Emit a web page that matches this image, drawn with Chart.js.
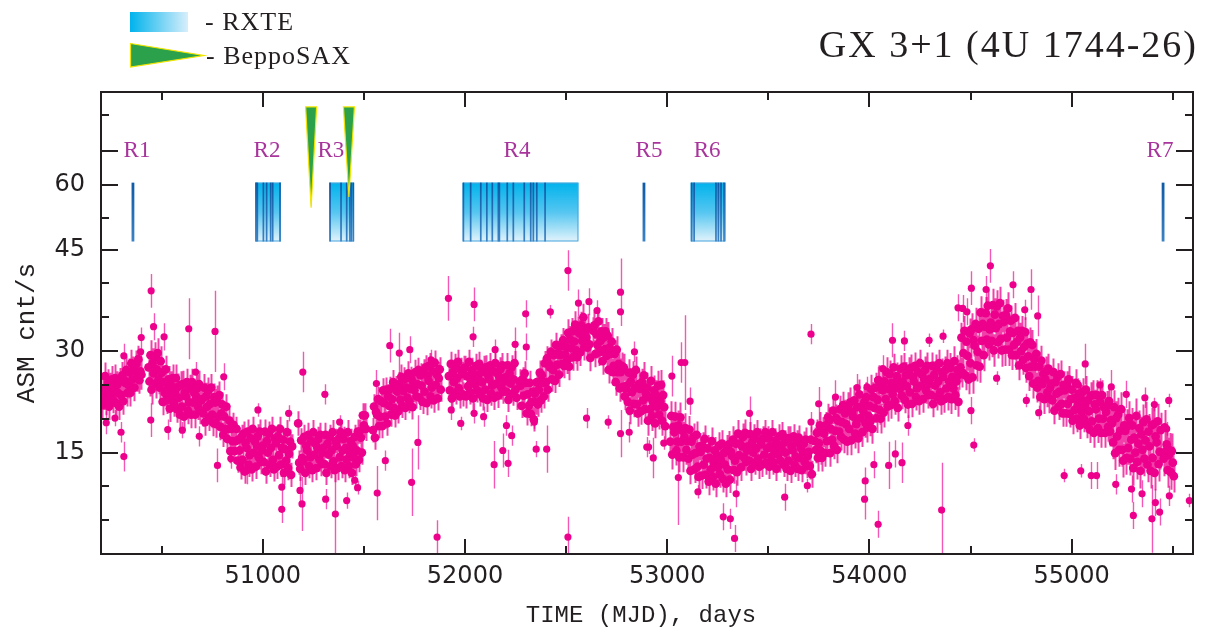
<!DOCTYPE html>
<html>
<head>
<meta charset="utf-8">
<title>GX 3+1 (4U 1744-26)</title>
<script src="https://cdn.jsdelivr.net/npm/chart.js@4.4.1/dist/chart.umd.min.js"></script>
<style>
    html, body { margin: 0; padding: 0; background: #fff; }
    #wrap { width: 1214px; height: 635px; }
</style>
</head>
<body>
<div id="wrap"><canvas id="lc" width="1214" height="635"></canvas></div>
<script>
// RXTE/ASM count rate, 5-day bins; each array starts at the MJD in its name (null = no data)
const ASM_BIN = 5;

const asm50200 = [
    null, 22.0, 24.5, 23.3, 26.3, 22.5, 24.0, 25.3, 21.8, 24.8, 23.5, 25.8, 22.8, 24.3, 26.0, 22.3, 25.0, 23.8, 21.8, 25.5,
    23.5, 26.4, 22.6, 25.7, 25.3, 27.2, 23.8, 25.0, 26.9, 23.8, 28.2, 25.8, 27.2, 24.6, 27.0, 28.1, 26.0, 28.8, 25.7, 27.0,
    26.5, null, null, null, null, null, null, 27.6, 25.5, 29.4, 24.3, 28.2, 26.7, 29.1, 25.2, 27.3, 29.7, 25.8, 24.6, 28.5,
    26.8, 22.5, 25.4, 23.8, 27.3, 22.7, 24.4, 25.8, 21.5, 25.0, 23.4, 26.0, 22.3, 24.0, 26.0, 21.4, 24.7, 23.1, 20.6, 25.0,
    21.8, 25.1, 20.3, 23.9, 23.3, 25.4, 21.2, 22.4, 24.5, 20.6, 25.4, 22.4, 23.9, 20.6, 23.3, 24.5, 21.8, 25.1, 21.2, 22.7,
    22.9, 20.8, 24.6, 19.5, 23.3, 21.8, 24.1, 20.2, 22.2, 24.6, 20.6, 19.4, 23.2, 22.4, 19.2, 22.9, 20.3, 23.5, 18.8, 20.8,
    22.1, 17.6, 20.3, 18.5, 21.8, 17.0, 18.5, 19.7, 15.2, 18.5, 16.7, 19.1, 15.2, 16.7, 18.5, 13.8, 16.9, 15.3, 12.8, 17.3,
    13.9, 17.8, 12.2, 16.4, 15.7, 18.1, 13.2, 14.6, 17.1, 12.5, 18.5, 15.0, 16.7, 12.9, 16.0, 17.4, 14.3, 18.1, 13.6, 15.3,
    16.0, 13.6, 18.1, 12.2, 16.7, 15.0, 17.8, 13.2, 15.7, 18.5, 13.9, 12.5, 17.1, 16.4, 12.9, 17.4, 14.6, 18.5, 13.2, 15.7,
    16.9, 12.0, 15.5, 13.8, 18.0, 12.7, 14.8, 16.6, 11.7, 15.9, null, null, null, null, null, 19.3, 13.5, 12.6, 16.8, 14.2,
];

const asm51200 = [
    13.7, 17.3, 12.0, 16.0, 15.3, 17.6, 13.0, 14.3, 16.7, 12.4, 18.0, 14.7, 16.3, 12.7, 15.7, 17.0, 14.0, 17.6, 13.3, 15.0,
    15.7, 13.3, 17.6, 12.0, 16.3, 14.7, 17.3, 13.0, 15.3, 18.0, 13.7, 12.4, 16.7, 16.0, 12.7, 17.0, 14.3, 18.0, 13.0, 15.3,
    17.0, 12.4, 15.7, 14.0, 18.0, 13.0, 15.0, 16.7, 12.0, 16.0, 14.3, 17.3, 13.3, 15.3, 18.1, 13.9, 18.1, 17.2, 15.0, 20.5,
    19.0, 20.5, 18.5, null, null, null, null, null, null, 18.3, 21.8, 17.2, 21.0, 20.6, 22.9, 18.9, 20.3, 22.6, 18.9, 24.2,
    22.3, 20.3, 24.3, 19.3, 23.3, 21.9, 24.4, 20.6, 22.9, 25.4, 21.6, 20.5, 24.5, 24.0, 21.1, 25.1, 22.8, 26.2, 21.9, 24.1,
    25.8, 21.6, 24.6, 23.1, 26.7, 22.6, 24.4, 25.9, 21.7, 25.3, 24.2, 26.9, 23.3, 25.1, 27.2, 23.1, 26.4, 24.9, 22.5, 27.0,
    24.0, 27.6, 22.3, 26.3, 25.6, 27.9, 23.3, 24.6, 27.0, 22.7, 28.3, 25.0, 26.6, 23.0, 26.0, 27.3, 24.3, null, null, null,
    null, null, null, null, 26.3, 24.2, 28.1, 23.0, 26.9, 25.4, 27.8, 23.9, 26.0, 28.4, 24.5, 23.3, 27.2, 26.6, 23.6, 27.5,
    27.5, 23.3, 26.3, 24.8, 28.4, 23.9, 25.7, 27.2, 23.0, 26.6, 25.1, 27.8, 24.2, 26.0, 28.1, 23.6, 26.9, 25.4, 23.0, 27.5,
    24.3, 27.6, 22.8, 26.4, 25.8, 27.9, 23.7, 24.9, 27.0, 23.1, 28.2, 25.2, 26.7, 23.4, 26.1, 27.3, 24.6, 27.9, 24.0, 25.5,
];

const asm52200 = [
    26.1, 24.0, 27.9, 22.8, 26.7, 25.2, 27.6, 23.7, 25.8, 28.2, 24.3, 23.1, null, null, 25.5, 24.9, 21.9, 25.8, 23.4, 26.7,
    25.3, 20.8, 23.6, 21.9, 25.3, 20.7, 22.5, 24.0, 19.9, 23.7, 22.4, 25.4, 22.1, 24.3, 26.8, 22.7, 26.4, 25.3, 23.3, 28.2,
    25.4, 28.9, 24.3, 28.1, 27.6, 29.9, 25.8, 27.2, 29.4, 25.6, 30.9, 28.0, 29.7, 26.5, 29.4, 30.7, 28.1, 31.6, 27.8, 29.5,
    30.6, 28.6, 32.7, 27.7, 31.7, 30.4, 32.9, 29.1, 31.4, 33.9, 30.1, 29.1, 33.1, 32.6, 29.8, 33.8, 31.5, 35.0, 30.6, 32.9,
    32.0, 30.5, 33.5, 31.0, 29.0, null, null, 33.0, 33.8, 29.6, 32.5, 30.9, 34.4, 29.8, 31.5, 32.9, 28.5, 32.0, 30.3, 32.9,
    29.3, 32.3, 27.2, 30.5, 29.6, 31.4, 26.9, 27.8, 29.6, 25.4, 30.2, 26.9, 28.1, 24.5, 26.9, 27.8, 24.7, 27.6, 23.3, 24.5,
    24.9, 22.5, 26.8, 21.2, 25.5, 23.9, 26.5, 22.2, 24.5, 27.2, 22.1, 20.8, 25.1, 24.4, 21.1, 25.4, 22.7, 26.4, 21.4, 23.7,
    24.6, 19.7, 23.2, 21.4, 25.6, 20.4, 22.5, 24.2, 19.3, 23.5, 21.8, 24.9, 20.6, 22.6, 25.0, 19.7, 23.5, 21.7, 18.9, null,
    null, null, null, 16.6, 20.4, 14.7, 18.8, 18.0, 20.3, 15.3, 16.6, 19.0, 14.3, 20.2, 16.6, 18.2, 14.3, 17.3, 18.6, 15.4,
    16.7, 14.1, 18.4, 12.3, 16.6, 14.7, 17.3, 12.5, 14.9, 17.6, 12.9, 11.4, 15.9, 15.1, 11.6, 16.0, 13.2, 17.0, 11.7, 14.1,
];

const asm53200 = [
    15.6, 10.7, 14.2, 12.5, 16.7, 11.4, 13.5, 15.3, 10.4, 14.6, 12.8, 16.0, 11.8, 13.9, 16.3, 11.1, 14.9, 13.2, 10.4, 15.6,
    12.5, 16.2, 11.0, 15.1, 14.5, 16.9, 12.4, 13.8, 16.3, 12.1, 17.8, 14.6, 16.3, 12.8, 15.9, 17.3, 14.3, 17.9, 13.6, 15.3,
    15.9, 13.8, 17.7, 12.6, 16.5, 15.0, 17.4, 13.5, 15.6, 18.0, 14.1, 12.9, 16.8, 16.2, 13.2, 17.1, 14.7, 18.0, 13.5, 15.6,
    17.1, 12.9, 15.9, 14.4, 18.0, 13.5, 15.3, 16.8, 12.6, 16.2, 14.7, 17.4, 13.8, 15.6, 17.7, 13.2, 16.5, 15.0, 12.6, 17.1,
    13.8, 17.1, 12.3, 15.9, 15.3, 17.4, 13.2, 14.4, 16.5, 12.6, 17.2, 14.2, 15.7, 12.4, 15.1, 16.3, 13.6, 16.9, 13.0, 14.5,
    15.1, 13.0, 16.9, 11.8, null, null, 16.7, 15.4, 17.9, 14.2, 16.4, 19.0, 15.2, 14.2, 18.2, 17.8, 14.9, 19.0, 16.7, 20.2,
    19.7, 14.9, 18.5, 16.9, 21.2, 16.0, 18.2, 20.1, 15.4, 19.7, 18.1, 21.4, 17.3, 19.5, 22.0, 16.9, 20.8, 19.2, 16.6, 21.9,
    18.5, 22.4, 16.8, 21.0, 20.3, 22.7, 17.8, 19.2, 21.7, 17.1, 23.6, 20.1, 21.8, 18.0, 21.1, 22.5, 19.4, 23.2, 18.7, 20.4,
    21.9, 19.6, 24.3, 18.5, 23.2, 21.6, 24.6, 20.1, 22.8, 25.7, 21.3, 20.0, 24.8, 24.2, 20.9, 25.5, 22.9, 26.9, 21.8, 24.4,
    26.6, 22.0, 25.3, 23.6, 27.6, 22.6, 24.6, 26.3, 21.6, 25.6, 24.4, 27.4, 23.4, 25.4, 27.7, 22.8, 26.4, 24.8, 22.1, 27.1,
];

const asm54200 = [
    23.9, 27.5, 22.2, 26.2, 25.5, 27.8, 23.2, 24.5, 26.9, 22.6, 28.2, 24.9, 26.5, 22.9, 25.9, 27.2, 24.2, 27.8, 23.5, 25.2,
    25.9, 23.5, 27.8, 22.2, 26.5, 24.9, 27.5, 23.2, 25.5, 28.2, 23.9, 22.6, 26.9, 26.2, 22.9, 27.2, 24.5, 28.2, 23.2, 25.5,
    27.5, 22.9, 26.2, 24.5, 28.5, 23.5, 25.5, 27.2, 22.5, 26.5, 27.6, 32.0, 26.8, 29.7, 33.0, 26.4, 31.4, 29.3, 25.8, 32.6,
    28.2, 33.2, 26.1, 31.6, 30.8, 34.0, 27.9, 29.9, 33.3, 27.7, 35.7, 31.5, 34.0, 29.4, 33.6, 35.6, 31.7, 36.7, 31.0, 33.2,
    34.2, 31.5, 36.8, 30.1, 35.4, 33.4, 36.6, 31.3, 34.0, 37.1, 31.8, 30.1, 35.2, 34.3, 30.2, 35.3, 32.0, 36.3, 30.2, 32.9,
    34.5, 29.4, 32.7, 30.9, 34.9, 29.4, 31.4, 33.0, 27.9, 32.0, 30.0, 33.0, 28.7, 30.6, 32.8, 27.5, 31.1, 29.2, 26.3, 31.3,
    27.7, 30.9, 25.2, 28.8, 27.7, 29.6, 24.6, 25.6, 27.7, 23.2, 28.6, 25.1, 26.6, 22.9, 25.8, 27.0, 23.9, 27.4, 23.0, 24.6,
    25.2, 22.7, 26.9, 21.2, 25.4, 23.7, 26.2, 21.8, 24.0, 26.6, 22.2, 20.8, 25.0, 24.2, 20.8, 25.0, 22.2, 25.8, 20.7, 22.9,
    24.3, 19.7, 23.0, 21.3, 25.3, 20.0, 22.0, 23.7, 19.0, 23.0, 21.0, 24.0, 20.0, 22.0, 24.3, 19.1, 22.7, 21.1, 18.4, 23.4,
    19.6, 23.5, 17.9, 22.1, 21.4, 23.5, 18.6, 20.0, 22.5, 17.9, 23.5, 20.0, 21.7, 17.9, 21.0, 21.9, 18.8, 22.6, 18.1, 19.8,
];

const asm55200 = [
    19.3, 16.5, 21.7, 14.9, 20.1, 17.4, 20.6, 15.4, 18.2, 21.4, 15.4, 13.8, 19.0, 18.2, 14.2, 18.9, 15.7, 20.1, 14.1, 16.9,
    19.0, 12.7, 17.2, 15.0, 20.4, 13.6, 16.3, 18.6, 12.3, 17.7, 15.4, 19.5, 14.1, 16.8, 19.9, 13.2, 18.1, 15.9, 12.3, 19.0,
    14.2, 19.2, 12.0, 17.4, 16.5, 19.6, 13.3, 15.1, 18.3, null, null, 14.1, 18.7, 15.2, 16.2, 12.4, 14.6, 15.3, 12.1, 15.2,
    13.5, 11.5,
];

// typical 1-sigma error of the binned points, one value per 100 days from MJD 50200
const asmErr = [
    2.0, 2.0, 2.2, 2.0, 2.0, 2.0, 1.8, 1.8, 1.8, 1.8,
    1.8, 1.8, 1.8, 1.8, 1.8, 1.8, 1.8, 1.8, 1.8, 1.8,
    1.8, 1.8, 1.8, 2.0, 2.0, 2.0, 2.0, 2.2, 2.2, 2.0,
    2.0, 2.0, 1.8, 1.8, 1.8, 2.0, 2.0, 2.2, 2.2, 2.0,
    2.0, 2.0, 2.2, 2.4, 2.4, 2.2, 2.2, 2.0, 2.0, 2.2,
    2.5, 2.6, 2.6, 2.4,
];

// isolated points off the main band: [MJD, rate, error]
const asmOutliers = [
    [50226, 19.4, 1.7], [50269, 20.1, 1.2], [50299, 18.0, 1.5], [50313, 14.4, 2.2], [50313, 29.3, 1.8],
    [50399, 32.0, 1.5], [50396, 29.9, 1.5], [50448, 38.9, 2.5], [50460, 33.6, 2.0], [50446, 19.8, 2.5],
    [50512, 32.1, 2.0], [50530, 18.4, 1.5], [50634, 33.3, 4.5], [50668, 26.9, 1.5], [50686, 17.4, 1.5],
    [50602, 18.3, 1.2], [50764, 32.9, 6.0], [50776, 13.1, 2.5], [50842, 14.1, 1.5], [50807, 26.2, 2.0],
    [50920, 12.3, 2.0], [50976, 21.3, 1.0], [51094, 6.6, 2.0], [51094, 9.9, 2.5], [51128, 20.8, 1.2],
    [51198, 26.9, 3.0], [51194, 7.4, 4.0], [51184, 9.4, 2.0], [51307, 23.6, 1.5], [51359, 5.9, 6.0],
    [51415, 7.9, 1.2], [51311, 8.1, 1.5], [51380, 19.5, 1.0], [51455, 10.9, 1.5], [51469, 9.8, 1.0],
    [51566, 9.0, 4.0], [51562, 25.2, 2.0], [51606, 13.8, 1.5], [51628, 30.8, 2.5], [51675, 29.7, 3.0],
    [51727, 30.2, 2.0], [51736, 10.6, 5.0], [51767, 16.5, 4.0], [51832, 28.7, 1.5], [51862, 2.5, 2.5],
    [51871, 27.4, 1.0], [51918, 37.8, 3.3], [51932, 21.3, 1.5], [51979, 19.3, 1.0], [52045, 36.9, 2.5],
    [52040, 32.1, 1.5], [52045, 20.8, 1.5], [52092, 20.3, 1.5], [52144, 13.2, 3.5], [52149, 30.2, 1.5],
    [52187, 15.3, 2.5], [52205, 19.0, 1.5], [52213, 13.4, 2.0], [52231, 17.5, 1.5], [52248, 31.0, 2.5],
    [52300, 35.5, 2.0], [52303, 30.6, 2.0], [52352, 15.5, 1.2], [52404, 15.5, 3.5], [52422, 35.8, 1.0],
    [52343, 19.5, 1.0], [52509, 41.9, 3.0], [52509, 2.5, 3.0], [52613, 37.3, 2.0], [52561, 37.1, 2.0],
    [52601, 20.1, 1.5], [52653, 36.0, 1.5], [52769, 38.7, 5.0], [52769, 35.8, 1.5], [52708, 19.5, 1.0],
    [52769, 17.8, 3.5], [52812, 18.0, 1.5], [52899, 15.8, 1.5], [52838, 29.9, 1.5], [52931, 14.2, 3.0],
    [52908, 15.8, 1.0], [52983, 16.4, 1.0], [53023, 26.3, 3.0], [53069, 28.3, 3.0], [53087, 28.3, 7.0],
    [53055, 11.3, 7.0], [53113, 22.6, 2.0], [53277, 5.5, 2.0], [53312, 5.2, 1.5], [53333, 2.3, 2.0],
    [53341, 8.9, 2.0], [53152, 9.2, 1.0], [53407, 20.8, 2.5], [53581, 8.4, 2.0], [53711, 32.5, 1.5],
    [53693, 10.1, 1.0], [53711, 19.5, 1.5], [53749, 22.2, 2.5], [53832, 23.2, 2.5], [53939, 24.6, 2.0],
    [53988, 24.7, 1.5], [53976, 8.1, 3.0], [53979, 10.8, 2.0], [54022, 13.2, 2.0], [54043, 4.4, 2.0],
    [54040, 25.7, 2.0], [54066, 27.4, 2.0], [54114, 31.6, 2.5], [54095, 13.1, 3.5], [54128, 14.8, 2.0],
    [54161, 13.5, 3.0], [54173, 31.5, 1.5], [54295, 31.6, 1.0], [54364, 32.2, 1.0], [54438, 36.4, 2.0],
    [54357, 6.5, 7.0], [54190, 19.0, 1.5], [54504, 39.3, 2.5], [54461, 36.3, 2.0], [54482, 35.8, 2.0],
    [54516, 16.1, 1.0], [54502, 21.2, 2.0], [54598, 42.6, 2.5], [54577, 39.1, 2.0], [54710, 39.8, 2.0],
    [54629, 26.0, 1.0], [54799, 39.1, 3.0], [54768, 36.1, 1.5], [54832, 35.2, 3.0], [54776, 22.7, 1.0],
    [54837, 20.9, 1.0], [55067, 28.1, 3.0], [54981, 25.3, 1.0], [55033, 25.0, 1.0], [54963, 11.6, 1.0],
    [55045, 12.3, 1.0], [55097, 11.6, 2.0], [55123, 11.6, 2.0], [55196, 24.7, 2.5], [55140, 25.0, 1.0],
    [55409, 22.1, 1.0], [55362, 23.1, 1.5], [55270, 23.6, 2.0], [55305, 5.7, 2.0], [55397, 5.2, 5.0],
    [55435, 6.2, 2.0], [55414, 7.6, 2.0], [55480, 22.7, 1.0], [55483, 8.6, 1.5], [55470, 18.5, 1.0],
    [55582, 7.9, 1.0], [55218, 10.3, 1.5], [55296, 9.6, 2.0], [55348, 8.9, 2.0],
];

// pointed observations (MJD)
const rxteBlocks = [[50962, 51090], [51329, 51451], [51989, 52561], [53116, 53289]];
const rxteObs = [
    50358, 50967, 50973, 51003, 51019, 51039, 51049, 51085,
    51333, 51387, 51415, 51431, 51438, 51448,
    51992, 52028, 52078, 52108, 52135, 52165, 52170, 52209, 52239, 52293, 52325, 52338, 52355, 52396,
    52885, 53121, 53133, 53241, 53253, 53266, 53281, 55452,
];
const saxObs = [51239, 51426];
const saxTip = [51.2, 52.8];

const regionNames = ['R1', 'R2', 'R3', 'R4', 'R5', 'R6', 'R7'];
const regionMjd = [50378, 51021, 51337, 52257, 52910, 53197, 55437];

// axes
const xMajorTicks = [51000, 52000, 53000, 54000, 55000];
const xMinorTicks = [50500, 51500, 52500, 53500, 54500, 55500];
const yLabelTicks = [15, 30, 45, 54.6];
const yLabels = ['15', '30', '45', '60'];
const yMajorTicks = [15, 30, 45, 54.6, 59.6];
const yMinorTicks = [5, 10, 20, 25, 35, 40, 49.6, 64.9];

const INK = '#231f20';
const MAGENTA = '#ec008c';

const bandPoints = [];
[[50200, asm50200], [51200, asm51200], [52200, asm52200], [53200, asm53200], [54200, asm54200], [55200, asm55200]]
    .forEach(([start, rates]) => {
        rates.forEach((r, i) => {
            if (r === null) {
                return;
            }
            const mjd = start + i * ASM_BIN;
            bandPoints.push({ x: mjd, y: r, e: asmErr[Math.floor((mjd - 50200) / 100)] });
        });
    });
const offPoints = asmOutliers.map(([x, y, e]) => ({ x, y, e }));

function strokeErrors(ctx, x, y, points) {
    ctx.beginPath();
    points.forEach((p) => {
        const px = Math.round(x.getPixelForValue(p.x)) + 0.5;
        ctx.moveTo(px, y.getPixelForValue(p.y + p.e));
        ctx.lineTo(px, y.getPixelForValue(p.y - p.e));
    });
    ctx.stroke();
}

function drawErrorBars(chart) {
    const { ctx, chartArea: a, scales: { x, y } } = chart;
    ctx.save();
    ctx.beginPath();
    ctx.rect(a.left, a.top, a.right - a.left, a.bottom - a.top);
    ctx.clip();
    ctx.strokeStyle = 'rgba(236,0,140,0.75)';
    ctx.lineWidth = 2;
    strokeErrors(ctx, x, y, bandPoints);
    ctx.strokeStyle = 'rgba(236,0,140,0.65)';
    ctx.lineWidth = 1.4;
    strokeErrors(ctx, x, y, offPoints);
    ctx.restore();
}

function drawObservations(ctx, x, y) {
    const top = y.getPixelForValue(54.9);
    const bot = y.getPixelForValue(46.2);

    const fill = ctx.createLinearGradient(0, top, 0, bot);
    fill.addColorStop(0, '#00b3ec');
    fill.addColorStop(0.5, '#55c6f1');
    fill.addColorStop(1, '#e2f3fc');
    const line = ctx.createLinearGradient(0, top, 0, bot);
    line.addColorStop(0, '#0e5aa7');
    line.addColorStop(1, '#3b82c4');

    rxteBlocks.forEach(([a, b]) => {
        const x0 = x.getPixelForValue(a);
        const x1 = x.getPixelForValue(b);
        ctx.fillStyle = fill;
        ctx.fillRect(x0, top, x1 - x0, bot - top);
        ctx.strokeStyle = '#4aa6dc';
        ctx.lineWidth = 1;
        ctx.strokeRect(x0 + 0.5, top + 0.5, x1 - x0 - 1, bot - top - 1);
    });
    rxteObs.forEach((m) => {
        const inBlock = rxteBlocks.some(([a, b]) => m >= a && m <= b);
        const w = inBlock ? 1.7 : 2.8;
        const px = x.getPixelForValue(m);
        ctx.fillStyle = line;
        ctx.fillRect(px - w / 2, top, w, bot - top);
    });

    // BeppoSAX pointings
    const saxTop = y.getPixelForValue(66.1);
    saxObs.forEach((m, i) => {
        const px = x.getPixelForValue(m);
        const tip = y.getPixelForValue(saxTip[i]);
        ctx.beginPath();
        ctx.moveTo(px - 5.5, saxTop);
        ctx.lineTo(px + 5.5, saxTop);
        ctx.lineTo(px, tip);
        ctx.closePath();
        ctx.fillStyle = '#2ba14b';
        ctx.fill();
        ctx.strokeStyle = '#f2e500';
        ctx.lineWidth = 1.2;
        ctx.stroke();
    });

    ctx.fillStyle = '#a8359c';
    ctx.font = '23px "Liberation Serif"';
    ctx.textAlign = 'center';
    ctx.textBaseline = 'alphabetic';
    const labelY = y.getPixelForValue(59.6) + 6;
    regionNames.forEach((n, i) => ctx.fillText(n, x.getPixelForValue(regionMjd[i]), labelY));
}

function drawFrame(ctx, a, x, y) {
    ctx.strokeStyle = INK;
    ctx.lineWidth = 2;
    ctx.strokeRect(a.left, a.top, a.right - a.left, a.bottom - a.top);

    ctx.beginPath();
    const xt = (v, len) => {
        const px = Math.round(x.getPixelForValue(v));
        ctx.moveTo(px, a.bottom);
        ctx.lineTo(px, a.bottom - len);
        ctx.moveTo(px, a.top);
        ctx.lineTo(px, a.top + len);
    };
    const yt = (v, len) => {
        const py = Math.round(y.getPixelForValue(v));
        ctx.moveTo(a.left, py);
        ctx.lineTo(a.left + len, py);
        ctx.moveTo(a.right, py);
        ctx.lineTo(a.right - len, py);
    };
    xMajorTicks.forEach((v) => xt(v, 15));
    xMinorTicks.forEach((v) => xt(v, 8));
    yMajorTicks.forEach((v) => yt(v, 17));
    yMinorTicks.forEach((v) => yt(v, 8));
    ctx.stroke();
}

function drawTexts(ctx) {
    ctx.fillStyle = INK;
    ctx.textBaseline = 'alphabetic';

    ctx.font = '24px "Liberation Mono"';
    ctx.textAlign = 'center';
    ctx.fillText('TIME (MJD), days', 641, 622);

    ctx.save();
    ctx.translate(34, 333);
    ctx.rotate(-Math.PI / 2);
    ctx.font = '26px "Liberation Mono"';
    ctx.fillText('ASM cnt/s', 0, 0);
    ctx.restore();

    ctx.font = '38px "Liberation Serif"';
    ctx.textAlign = 'right';
    ctx.letterSpacing = '2px';
    ctx.fillText('GX 3+1 (4U 1744-26)', 1198, 57);
    ctx.letterSpacing = '0px';

    // legend
    const g = ctx.createLinearGradient(130, 0, 188, 0);
    g.addColorStop(0, '#00b3ec');
    g.addColorStop(1, '#d8eefb');
    ctx.fillStyle = g;
    ctx.fillRect(130, 12, 58, 20);

    ctx.beginPath();
    ctx.moveTo(130.5, 43.5);
    ctx.lineTo(204, 55.5);
    ctx.lineTo(130.5, 67);
    ctx.closePath();
    ctx.fillStyle = '#2ba14b';
    ctx.fill();
    ctx.strokeStyle = '#f2e500';
    ctx.lineWidth = 1.2;
    ctx.stroke();

    ctx.fillStyle = INK;
    ctx.font = '26px "Liberation Serif"';
    ctx.textAlign = 'left';
    ctx.letterSpacing = '1px';
    ctx.fillText('- RXTE', 205, 30);
    ctx.fillText('- BeppoSAX', 206, 64);
    ctx.letterSpacing = '0px';
}

const decor = {
    id: 'decor',
    beforeDatasetsDraw(chart) {
        drawErrorBars(chart);
    },
    afterDraw(chart) {
        const { ctx, chartArea, scales: { x, y } } = chart;
        ctx.save();
        drawObservations(ctx, x, y);
        drawFrame(ctx, chartArea, x, y);
        drawTexts(ctx);
        ctx.restore();
    },
};

new Chart(document.getElementById('lc'), {
    type: 'scatter',
    data: {
        datasets: [
            {
                label: 'ASM',
                data: bandPoints,
                pointRadius: 4.4,
                pointHoverRadius: 4.4,
                backgroundColor: MAGENTA,
                borderWidth: 0,
            },
            {
                label: 'ASM (isolated)',
                data: offPoints,
                pointRadius: 3.6,
                pointHoverRadius: 3.6,
                backgroundColor: MAGENTA,
                borderWidth: 0,
            },
        ],
    },
    options: {
        responsive: false,
        animation: false,
        devicePixelRatio: 1,
        events: [],
        layout: { padding: { top: 92, right: 21, left: 0, bottom: 0 } },
        plugins: { legend: { display: false }, tooltip: { enabled: false }, title: { display: false } },
        scales: {
            x: {
                type: 'linear',
                min: 50200,
                max: 55600,
                grid: { display: false, drawTicks: false },
                border: { display: false },
                afterBuildTicks: (s) => { s.ticks = xMajorTicks.map((v) => ({ value: v })); },
                afterFit: (s) => { s.height = 81; },
                ticks: {
                    font: { family: 'DejaVu Sans', size: 24 },
                    color: INK,
                    padding: 8,
                    maxRotation: 0,
                    autoSkip: false,
                    callback: (v) => String(v),
                },
            },
            y: {
                type: 'linear',
                min: 0,
                max: 68.3,
                grid: { display: false, drawTicks: false },
                border: { display: false },
                afterBuildTicks: (s) => { s.ticks = yLabelTicks.map((v) => ({ value: v })); },
                afterFit: (s) => { s.width = 101; },
                ticks: {
                    font: { family: 'DejaVu Sans', size: 24 },
                    color: INK,
                    padding: 16,
                    autoSkip: false,
                    callback: (v, i) => yLabels[i],
                },
            },
        },
    },
    plugins: [decor],
});
</script>
</body>
</html>
